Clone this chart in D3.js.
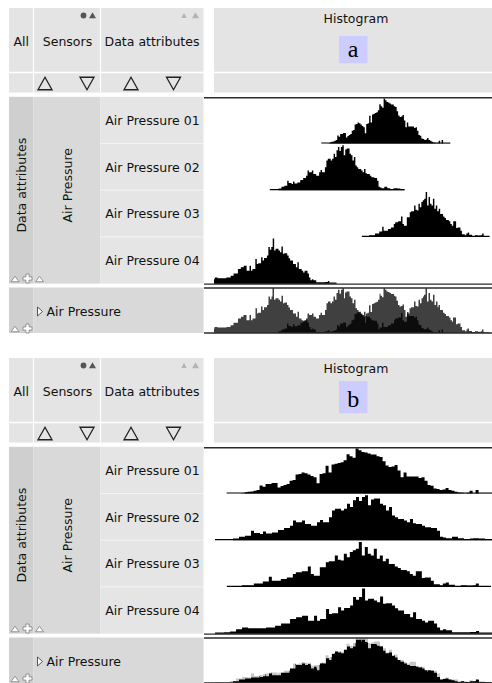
<!DOCTYPE html>
<html>
<head>
<meta charset="utf-8">
<script src="https://cdn.jsdelivr.net/npm/d3@7"></script>
<style>
  html, body { margin: 0; padding: 0; background: #fff; }
  svg { display: block; font-family: "DejaVu Sans", sans-serif; }
</style>
</head>
<body>
<svg id="chart" width="492" height="683"></svg>
<script>
// ---- data ---------------------------------------------------------------
const attributes = ['Air Pressure 01', 'Air Pressure 02', 'Air Pressure 03', 'Air Pressure 04'];
const sensorGroup = 'Air Pressure';
const panelLabels = ['a', 'b'];
const binWidth = 0.2;                          // hPa per bin
const binStarts = [999.8, 992.7, 1005.4, 983.3]; // left edge of first bin, hPa
const pressureDomain = [985, 1023.35];           // shared range in view a
const zoomHalfSpan = 10;                         // hPa either side of the mean in view b

const pressure01 = [0, 0, 0, 0, 0, 1, 4, 5, 6, 8, 10, 24, 20, 28, 28, 31, 31, 18, 22, 25,
  28, 38, 40, 56, 58, 62, 60, 56, 52, 48, 30, 58, 60, 82, 62, 86, 88, 90, 92, 98,
  116, 110, 106, 133, 128, 123, 121, 118, 115, 115, 110, 108, 95, 83, 78, 80, 84, 68, 48, 62,
  50, 50, 50, 50, 46, 48, 38, 25, 23, 15, 13, 10, 12, 16, 10, 8, 5, 3, 2, 1,
  2, 8, 1, 10, 1, 1, 1, 1, 1];
const pressure02 = [0, 0, 0, 0, 0, 0, 5, 5, 10, 10, 13, 13, 28, 21, 21, 18, 26, 20, 20, 23,
  23, 30, 30, 36, 36, 43, 58, 53, 53, 58, 48, 48, 43, 43, 53, 60, 53, 53, 68, 88,
  93, 93, 88, 93, 108, 98, 118, 128, 116, 128, 133, 103, 120, 123, 123, 108, 103, 88, 98, 73,
  68, 63, 63, 58, 53, 63, 50, 48, 48, 43, 38, 38, 36, 36, 28, 10, 8, 6, 6, 10,
  10, 6, 6, 3, 3, 5, 6, 6, 5, 5, 3, 3, 1];
const pressure03 = [0, 0, 0, 0, 2, 5, 5, 5, 5, 10, 10, 10, 16, 16, 30, 18, 18, 18, 23, 23,
  28, 28, 38, 43, 43, 46, 46, 60, 38, 33, 33, 58, 58, 73, 76, 76, 93, 80, 78, 98,
  88, 103, 108, 113, 133, 93, 118, 98, 93, 113, 83, 93, 76, 83, 68, 68, 60, 56, 50, 50,
  46, 38, 33, 46, 46, 26, 28, 28, 18, 8, 8, 5, 10, 13, 6, 6, 3, 3, 5, 5,
  4, 4, 5, 10, 2, 2, 2, 2];
const pressure04 = [2, 2, 2, 3, 3, 6, 6, 13, 13, 18, 18, 16, 16, 16, 16, 16, 16, 18, 18, 18,
  23, 23, 30, 30, 30, 43, 43, 48, 48, 53, 53, 38, 38, 53, 38, 43, 43, 73, 58, 60,
  60, 78, 68, 76, 76, 83, 108, 100, 108, 133, 98, 103, 103, 98, 93, 110, 88, 90, 90, 83,
  75, 68, 68, 58, 58, 48, 63, 43, 43, 38, 33, 38, 38, 30, 18, 10, 13, 10, 10, 3,
  3, 3, 3, 3, 3, 5, 5, 8, 1, 1, 1, 1, 1];
const series = [pressure01, pressure02, pressure03, pressure04];

// ---- layout -------------------------------------------------------------
const PANEL_DY = 350;
const COL = { x0: 9, c1: 33.5, c2: 100.5, x1: 203.5 };
const HEAD = { top: 8, split: 72.5, bottom: 92.5 };
const PLOT = { x0: 214, x1: 492, lineX: 204, cx: 357, zoomW: 150 };
const BODY = { top: 96.8, rowH: 46.7 };
const AGG = { top: 288, bottom: 333.5 };
const BAR_H = 45;
const C = {
  head: '#e4e4e4', col1: '#cfcfcf', col2: '#d9d9d9', label: '#e5e5e5',
  sep: '#f4f4f4', frame: '#2b2b2b', text: '#111', badge: '#ccccff',
};

const svg = d3.select('#chart');
const defs = svg.append('defs');

function tri(g, cx, cy, w, h, down, fill, stroke, sw = 1.3) {
  const pts = down
    ? [[cx - w / 2, cy - h / 2], [cx + w / 2, cy - h / 2], [cx, cy + h / 2]]
    : [[cx, cy - h / 2], [cx + w / 2, cy + h / 2], [cx - w / 2, cy + h / 2]];
  g.append('path').attr('d', d3.line()(pts) + 'Z')
    .attr('fill', fill).attr('stroke', stroke).attr('stroke-width', sw)
    .attr('stroke-linejoin', 'miter');
}

function plusIcon(g, cx, cy) {
  const a = 4.5, b = 1.6;
  const pts = [[-b, -a], [b, -a], [b, -b], [a, -b], [a, b], [b, b], [b, a], [-b, a],
    [-b, b], [-a, b], [-a, -b], [-b, -b]].map(([x, y]) => [cx + x, cy + y]);
  g.append('path').attr('d', d3.line()(pts) + 'Z')
    .attr('fill', '#fff').attr('stroke', '#8a8a8a').attr('stroke-width', 0.9);
}

function hline(g, y, y2) {
  g.append('line').attr('x1', PLOT.lineX).attr('x2', PLOT.x1)
    .attr('y1', y).attr('y2', y)
    .attr('stroke', C.frame).attr('stroke-width', 1.4);
}

function meanOf(k) {
  const counts = series[k];
  const total = d3.sum(counts);
  return d3.sum(counts, (c, i) => c * (binStarts[k] + (i + 0.5) * binWidth)) / total;
}

function drawHistogram(g, k, x, yBase) {
  const counts = series[k];
  const lo = binStarts[k];
  const hi = lo + counts.length * binWidth;
  const y = d3.scaleLinear().domain([0, d3.max(counts)]).range([yBase, yBase - BAR_H]);
  const pts = counts.map((c, i) => [lo + i * binWidth, c]);
  pts.push([hi, counts[counts.length - 1]]);
  const area = d3.area().curve(d3.curveStepAfter)
    .x(d => x(d[0])).y0(yBase).y1(d => y(d[1]));
  g.append('path').attr('d', area(pts)).attr('fill', '#000');
  g.append('line').attr('x1', x(lo)).attr('x2', x(hi))
    .attr('y1', yBase - 0.5).attr('y2', yBase - 0.5)
    .attr('stroke', '#000').attr('stroke-width', 1.2);
}

// overlay of all attributes: colour by how many histograms cover a point
function drawOverlay(g, scales, yBase, colors) {
  const heightAt = (k, px) => {
    const counts = series[k];
    const i = Math.floor((scales[k].invert(px) - binStarts[k]) / binWidth);
    return i >= 0 && i < counts.length ? counts[i] / d3.max(counts) : 0;
  };
  const cols = d3.range(PLOT.x0, PLOT.x1 + 0.5, 0.5).map(px => ({
    px,
    hs: series.map((_, k) => heightAt(k, px + 0.25)).sort(d3.descending),
  }));
  const y = d3.scaleLinear().domain([0, 1]).range([yBase, yBase - BAR_H]);
  colors.forEach((color, layer) => {
    const area = d3.area().curve(d3.curveStepAfter)
      .x(d => d.px).y0(yBase).y1(d => y(d.hs[layer]));
    g.append('path').attr('d', area(cols)).attr('fill', color);
  });
}

function drawPanel(p) {
  const dy = p * PANEL_DY;
  const g = svg.append('g').attr('transform', `translate(0,${dy})`);

  // --- header, left table
  const hg = g.append('g');
  hg.append('rect').attr('x', COL.x0).attr('y', HEAD.top)
    .attr('width', COL.x1 - COL.x0).attr('height', HEAD.bottom - HEAD.top).attr('fill', C.head);
  [COL.c1, COL.c2].forEach(x => hg.append('line').attr('x1', x).attr('x2', x)
    .attr('y1', HEAD.top).attr('y2', HEAD.bottom).attr('stroke', '#fff').attr('stroke-width', 1.2));
  hg.append('line').attr('x1', COL.x0).attr('x2', COL.x1)
    .attr('y1', HEAD.split).attr('y2', HEAD.split).attr('stroke', '#fff').attr('stroke-width', 1.4);
  const heads = [['All', (COL.x0 + COL.c1) / 2], ['Sensors', 67.5], ['Data attributes', (COL.c2 + COL.x1) / 2]];
  heads.forEach(([t, x]) => hg.append('text').attr('x', x).attr('y', 46)
    .attr('text-anchor', 'middle').attr('font-size', 12.5).attr('fill', C.text).text(t));
  // sort state icons
  hg.append('circle').attr('cx', 83.5).attr('cy', 15.5).attr('r', 2.9).attr('fill', '#555');
  tri(hg, 92.5, 15.3, 7, 6, false, '#555', 'none', 0);
  tri(hg, 184, 15.6, 5.4, 5, false, '#b4b4b4', 'none', 0);
  tri(hg, 195.5, 15.3, 7, 6, false, '#b4b4b4', 'none', 0);
  // sort arrows
  tri(hg, 45, 83.5, 14, 12.5, false, 'none', '#222');
  tri(hg, 87, 83.5, 14, 12.5, true, 'none', '#222');
  tri(hg, 131, 83.5, 14, 12.5, false, 'none', '#222');
  tri(hg, 173.5, 83.5, 14, 12.5, true, 'none', '#222');

  // --- header, plot
  hg.append('rect').attr('x', PLOT.x0).attr('y', HEAD.top)
    .attr('width', PLOT.x1 - PLOT.x0).attr('height', HEAD.bottom - HEAD.top).attr('fill', C.head);
  hg.append('line').attr('x1', PLOT.x0).attr('x2', PLOT.x1)
    .attr('y1', HEAD.split).attr('y2', HEAD.split).attr('stroke', '#fff').attr('stroke-width', 1.4);
  hg.append('text').attr('x', 356).attr('y', 23).attr('text-anchor', 'middle')
    .attr('font-size', 12.5).attr('fill', C.text).text('Histogram');
  const badgeTop = p === 0 ? 36 : 31;
  hg.append('rect').attr('x', 339).attr('y', badgeTop).attr('width', 28.5)
    .attr('height', 63.3 - badgeTop).attr('fill', C.badge);
  hg.append('text').attr('x', 353.2).attr('y', 56.5).attr('text-anchor', 'middle')
    .attr('font-family', '"Liberation Serif", serif').attr('font-size', 24)
    .attr('fill', '#000').text(panelLabels[p]);

  // --- body, left table
  const bodyBottom = BODY.top + attributes.length * BODY.rowH;
  const bg = g.append('g');
  bg.append('rect').attr('x', COL.x0).attr('y', BODY.top).attr('width', COL.c1 - COL.x0)
    .attr('height', bodyBottom - BODY.top).attr('fill', C.col1);
  bg.append('rect').attr('x', COL.c1).attr('y', BODY.top).attr('width', COL.c2 - COL.c1)
    .attr('height', bodyBottom - BODY.top).attr('fill', C.col2);
  attributes.forEach((name, i) => {
    const y0 = BODY.top + i * BODY.rowH;
    bg.append('rect').attr('x', COL.c2).attr('y', y0).attr('width', COL.x1 - COL.c2)
      .attr('height', BODY.rowH).attr('fill', C.label);
    if (i > 0) bg.append('line').attr('x1', COL.c2).attr('x2', COL.x1)
      .attr('y1', y0).attr('y2', y0).attr('stroke', C.sep).attr('stroke-width', 1);
    bg.append('text').attr('x', (COL.c2 + COL.x1) / 2 + 0.5).attr('y', y0 + BODY.rowH / 2 + 4.8)
      .attr('text-anchor', 'middle').attr('font-size', 12.5).attr('fill', C.text).text(name);
  });
  const midY = (BODY.top + bodyBottom) / 2 - 5;
  [['Data attributes', 21.5], [sensorGroup, 67]].forEach(([t, x]) => bg.append('text')
    .attr('transform', `translate(${x + 4.5},${midY}) rotate(-90)`)
    .attr('text-anchor', 'middle').attr('font-size', 12.5).attr('fill', C.text).text(t));
  tri(bg, 15, 279, 8, 5.5, false, '#fff', '#8a8a8a', 0.9);
  plusIcon(bg, 27.5, 278.5);
  tri(bg, 39.5, 279, 8, 5.5, false, '#fff', '#8a8a8a', 0.9);

  // --- aggregate row, left table
  const ag = g.append('g');
  ag.append('rect').attr('x', COL.x0).attr('y', AGG.top - 0.5).attr('width', COL.c1 - COL.x0)
    .attr('height', AGG.bottom - AGG.top).attr('fill', C.col1);
  ag.append('rect').attr('x', COL.c1).attr('y', AGG.top - 0.5).attr('width', COL.x1 - COL.c1)
    .attr('height', AGG.bottom - AGG.top).attr('fill', C.col2);
  ag.append('path').attr('d', 'M37.5,307 L42.5,311.5 L37.5,316 Z')
    .attr('fill', '#fff').attr('stroke', '#444').attr('stroke-width', 0.9);
  ag.append('text').attr('x', 46.5).attr('y', 316).attr('font-size', 12.5)
    .attr('fill', C.text).text(sensorGroup);
  tri(ag, 15, 329, 8, 5.5, false, '#fff', '#8a8a8a', 0.9);
  plusIcon(ag, 27.5, 328.5);

  // --- plot area
  const clipId = `plot-clip-${p}`;
  defs.append('clipPath').attr('id', clipId).append('rect')
    .attr('x', PLOT.x0).attr('y', 0).attr('width', PLOT.x1 - PLOT.x0).attr('height', 340);
  const pg = g.append('g').attr('clip-path', `url(#${clipId})`);

  const scales = p === 0
    ? series.map(() => d3.scaleLinear().domain(pressureDomain).range([PLOT.x0, PLOT.x1]))
    : series.map((_, k) => {
      const m = meanOf(k);
      return d3.scaleLinear().domain([m - zoomHalfSpan, m + zoomHalfSpan])
        .range([PLOT.cx - PLOT.zoomW, PLOT.cx + PLOT.zoomW]);
    });

  series.forEach((_, k) => drawHistogram(pg, k, scales[k], BODY.top + (k + 1) * BODY.rowH));
  drawOverlay(pg, scales, AGG.bottom - 0.5, p === 0 ? ['#404040', '#0c0c0c'] : ['#c6c6c6', '#000']);

  hline(g, BODY.top + 1);
  hline(g, bodyBottom + 0.5);
  hline(g, AGG.top);
  hline(g, AGG.bottom - 0.5);
}

panelLabels.forEach((_, p) => drawPanel(p));
</script>
</body>
</html>
